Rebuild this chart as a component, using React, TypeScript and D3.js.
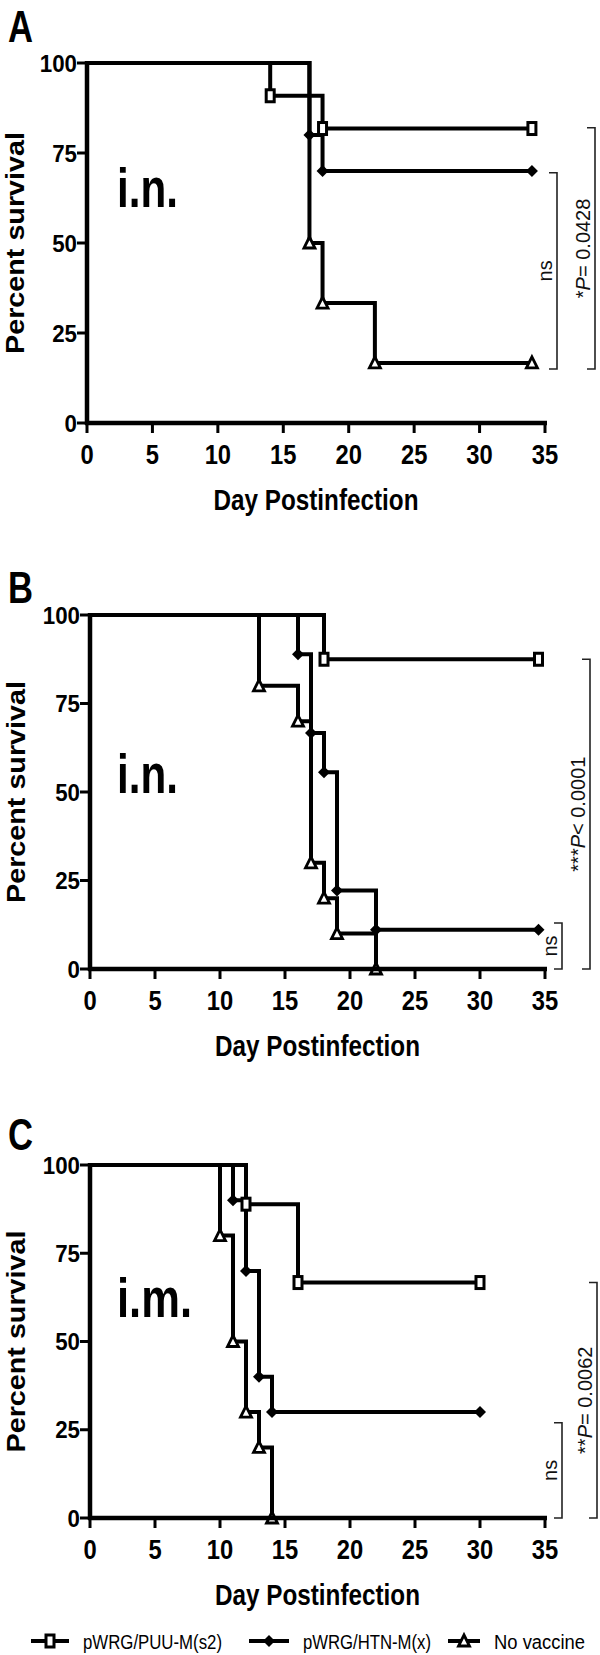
import React from 'react';
import * as d3 from 'd3';

// groups shown in every panel
const groupNames = ['pWRG/PUU-M(s2)', 'pWRG/HTN-M(x)', 'No vaccine'];
const groupMarkers = ['square', 'diamond', 'triangle'];

const xTicks = [0, 5, 10, 15, 20, 25, 30, 35];
const yTicks = [0, 25, 50, 75, 100];

const panelLetters = ['A', 'B', 'C'];
const routes = ['i.n.', 'i.n.', 'i.m.'];

// Kaplan-Meier steps: [day, percent survival]
const puuA = [[0, 100], [14, 90.9], [18, 81.8], [34, 81.8]];
const htnA = [[0, 100], [17, 80], [18, 70], [34, 70]];
const noneA = [[0, 100], [17, 50], [18, 33.3], [22, 16.7], [34, 16.7]];

const puuB = [[0, 100], [18, 87.5], [34.5, 87.5]];
const htnB = [[0, 100], [16, 88.9], [17, 66.7], [18, 55.6], [19, 22.2], [22, 11.1], [34.5, 11.1]];
const noneB = [[0, 100], [13, 80], [16, 70], [17, 30], [18, 20], [19, 10], [22, 0]];

const puuC = [[0, 100], [12, 88.9], [16, 66.7], [30, 66.7]];
const htnC = [[0, 100], [11, 90], [12, 70], [13, 40], [14, 30], [30, 30]];
const noneC = [[0, 100], [10, 80], [11, 50], [12, 30], [13, 20], [14, 0]];

const panelSeries = [
    [puuA, htnA, noneA],
    [puuB, htnB, noneB],
    [puuC, htnC, noneC],
];

// significance brackets (percent range) and their labels
const sigStars = ['*', '***', '**'];
const sigOps = ['=', '<', '='];
const sigValues = ['0.0428', '0.0001', '0.0062'];
const sigRanges = [[82, 15], [87.5, 0], [66.7, 0]];
const nsRanges = [[69.5, 15], [13, 0], [27, 0]];

const layout = [
    { top: 63, bottom: 423, left: 87, right: 545, letterY: 42, routeY: 207, outerX: 595, innerX: 557, routeW: 61 },
    { top: 615, bottom: 969, left: 90, right: 545, letterY: 603, routeY: 793, outerX: 590, innerX: 562, routeW: 61 },
    { top: 1165, bottom: 1518, left: 90, right: 545, letterY: 1150, routeY: 1317, outerX: 597, innerX: 562, routeW: 75 },
];

const font = "'Liberation Sans', Arial, sans-serif";

const Marker = ({ type, x, y }) => {
    if (type === 'square') {
        return <rect x={x - 4} y={y - 6} width={8} height={12} fill="#fff" stroke="#000" strokeWidth={3} />;
    }
    if (type === 'diamond') {
        return <path d={`M${x},${y - 6}L${x + 6},${y}L${x},${y + 6}L${x - 6},${y}Z`} fill="#000" />;
    }
    return <path d={`M${x},${y - 6}L${x + 5.5},${y + 5}L${x - 5.5},${y + 5}Z`} fill="#fff" stroke="#000" strokeWidth={2.8} />;
};

const Panel = ({ idx }) => {
    const L = layout[idx];
    const x = d3.scaleLinear().domain([0, 35]).range([L.left, L.right]);
    const y = d3.scaleLinear().domain([0, 100]).range([L.bottom, L.top]);
    const line = d3.line().x((d) => x(d[0])).y((d) => y(d[1])).curve(d3.curveStepAfter);
    const [sTop, sBot] = sigRanges[idx];
    const [nTop, nBot] = nsRanges[idx];
    const sMid = (y(sTop) + y(sBot)) / 2;
    const nMid = (y(nTop) + y(nBot)) / 2;

    return (
        <g>
            {/* panel letter */}
            <text x={8} y={L.letterY} fontSize={44} fontWeight="bold" fontFamily={font}
                textLength={25} lengthAdjust="spacingAndGlyphs">{panelLetters[idx]}</text>
            {/* route label */}
            <text x={117} y={L.routeY} fontSize={56} fontWeight="bold" fontFamily={font}
                textLength={L.routeW} lengthAdjust="spacingAndGlyphs">{routes[idx]}</text>
            {/* y axis label */}
            <text transform={`translate(${idx === 0 ? 24 : 25},${(L.top + L.bottom) / 2}) rotate(-90)`}
                textAnchor="middle" fontSize={26} fontWeight="bold" fontFamily={font}
                textLength={222} lengthAdjust="spacingAndGlyphs">Percent survival</text>

            {/* curves */}
            {panelSeries[idx].map((s, i) => (
                <path key={`c${i}`} d={line(s)} fill="none" stroke="#000" strokeWidth={4} />
            ))}
            {panelSeries[idx].map((s, i) => s.slice(1).map((d, j) => (
                <Marker key={`m${i}-${j}`} type={groupMarkers[i]} x={x(d[0])} y={y(d[1])} />
            )))}

            {/* axes */}
            <line x1={L.left} x2={L.left} y1={L.top - 2} y2={L.bottom + 2} stroke="#000" strokeWidth={4.5} />
            <line x1={L.left - 2} x2={L.right + 2} y1={L.bottom} y2={L.bottom} stroke="#000" strokeWidth={4.5} />
            {yTicks.map((t) => (
                <g key={`y${t}`}>
                    <line x1={L.left - 10} x2={L.left} y1={y(t)} y2={y(t)} stroke="#000" strokeWidth={3} />
                    <text transform={`translate(${L.left - 10},${y(t) + 8.5}) scale(0.93,1)`} textAnchor="end"
                        fontSize={24} fontWeight="bold" fontFamily={font}>{t}</text>
                </g>
            ))}
            {xTicks.map((t) => (
                <g key={`x${t}`}>
                    <line x1={x(t)} x2={x(t)} y1={L.bottom} y2={L.bottom + 10} stroke="#000" strokeWidth={3} />
                    <text transform={`translate(${x(t)},${L.bottom + 41}) scale(0.88,1)`} textAnchor="middle"
                        fontSize={27} fontWeight="bold" fontFamily={font}>{t}</text>
                </g>
            ))}
            <text x={(L.left + L.right) / 2} y={L.bottom + 87} textAnchor="middle" fontSize={30}
                fontWeight="bold" fontFamily={font} textLength={205} lengthAdjust="spacingAndGlyphs">Day Postinfection</text>

            {/* brackets */}
            <path d={`M${L.outerX - 8},${y(sTop)}H${L.outerX}V${y(sBot)}H${L.outerX - 8}`} fill="none" stroke="#222" strokeWidth={1.6} />
            <path d={`M${L.innerX - 8},${y(nTop)}H${L.innerX}V${y(nBot)}H${L.innerX - 8}`} fill="none" stroke="#222" strokeWidth={1.6} />
            <text transform={`translate(${L.outerX - 5},${sMid}) rotate(-90)`} textAnchor="middle"
                fontSize={20} fontFamily={font} fill="#111">
                {sigStars[idx]}<tspan fontStyle="italic">P</tspan>{`${sigOps[idx]} ${sigValues[idx]}`}
            </text>
            <text transform={`translate(${L.innerX - 5},${nMid}) rotate(-90)`} textAnchor="middle"
                fontSize={20} fontFamily={font} fill="#111">ns</text>
        </g>
    );
};

const legendX = [31, 249, 448];
const legendW = [38, 40, 32];
const legendTextW = [139, 128, 91];

const App = () => (
    <svg width={600} height={1655} style={{ position: 'absolute', left: 0, top: 0, background: '#fff' }}>
        <rect width={600} height={1655} fill="#fff" />
        {[0, 1, 2].map((i) => <Panel key={i} idx={i} />)}
        {groupNames.map((g, i) => (
            <g key={g}>
                <line x1={legendX[i]} x2={legendX[i] + legendW[i]} y1={1641} y2={1641} stroke="#000" strokeWidth={4} />
                <Marker type={groupMarkers[i]} x={legendX[i] + legendW[i] / 2} y={1641} />
                <text x={legendX[i] + legendW[i] + 14} y={1649} fontSize={20} fontFamily={font}
                    textLength={legendTextW[i]} lengthAdjust="spacingAndGlyphs">{g}</text>
            </g>
        ))}
    </svg>
);

export default App;
